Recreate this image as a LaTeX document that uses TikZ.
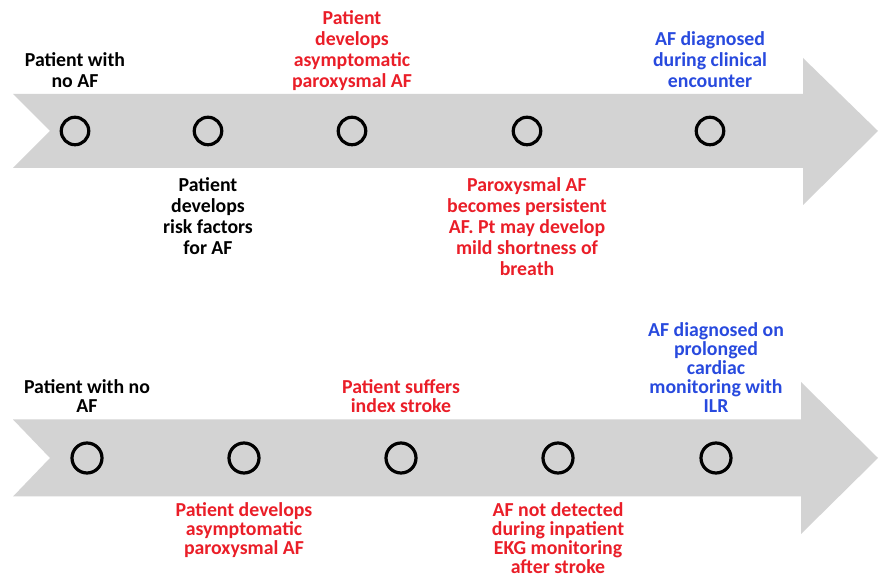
\documentclass[tikz,border=0pt]{standalone}
\usepackage{fontspec}
\setmainfont{Carlito}
\usetikzlibrary{positioning}

\definecolor{arrowgray}{RGB}{211,211,211}
\definecolor{evred}{RGB}{234,30,40}
\definecolor{evblue}{RGB}{40,74,222}

\tikzset{
    timearrow/.style={fill=arrowgray, draw=none},
    event/.style={circle, draw=black, line width=3.2pt, fill=arrowgray,
        minimum size=27.5pt, inner sep=0pt},
    eventb/.style={event, minimum size=30pt},
    evtext/.style={align=center, inner sep=0pt, text depth=4pt,
        font=\bfseries\fontsize{19.8}{21}\selectfont},
    evtextb/.style={evtext, font=\bfseries\fontsize{19.8}{19}\selectfont},
}

\begin{document}
\begin{tikzpicture}[x=1pt, y=1pt]
\useasboundingbox (0,0) rectangle (881,577);

% Timeline 1
\fill [timearrow] (13,483) -- (803,483) -- (803,519) -- (878,446)
    -- (803,372) -- (803,409) -- (13,409) -- (50,446) -- cycle;

\node (ta) [event] at (75,446) {};
\node (tb) [event] at (208,446) {};
\node (tc) [event] at (352,446) {};
\node (td) [event] at (527,446) {};
\node (te) [event] at (710,446) {};

\node (tanote) [evtext,
    above=24pt of ta
] {Patient with\\no AF};
\node (tbnote) [evtext,
    below=31pt of tb,
    text depth=0pt
] {Patient\\develops\\risk factors\\for AF};
\node (tcnote) [evtext,
    above=24pt of tc,
    text=evred
] {Patient\\develops\\asymptomatic\\paroxysmal AF};
\node (tdnote) [evtext,
    below=31pt of td,
    text=evred,
    text depth=0pt
] {Paroxysmal AF\\becomes persistent\\AF. Pt may develop\\mild shortness of\\breath};
\node (tenote) [evtext,
    above=24pt of te,
    text=evblue
] {AF diagnosed\\during clinical\\encounter};

%-------------------------------------
% Timeline 2
\fill [timearrow] (13,157.5) -- (801,157.5) -- (801,195) -- (878,119)
    -- (801,43) -- (801,80.5) -- (13,80.5) -- (50,119) -- cycle;

\node (ba) [eventb] at (87,119) {};
\node (bb) [eventb] at (244,119) {};
\node (bc) [eventb] at (401,119) {};
\node (bd) [eventb] at (558,119) {};
\node (be) [eventb] at (716,119) {};

\node (banote) [evtextb,
    above=25pt of ba
] {Patient with no\\AF};
\node (bbnote) [evtextb,
    below=28pt of bb,
    text=evred,
    text depth=0pt
] {Patient develops\\asymptomatic\\paroxysmal AF};
\node (bcnote) [evtextb,
    above=25pt of bc,
    text=evred
] {Patient suffers\\index stroke};
\node (bdnote) [evtextb,
    below=28pt of bd,
    text=evred,
    text depth=0pt
] {AF not detected\\during inpatient\\EKG monitoring\\after stroke};
\node (benote) [evtextb,
    above=25pt of be,
    text=evblue
] {AF diagnosed on\\prolonged\\cardiac\\monitoring with\\ILR};

\end{tikzpicture}
\end{document}
